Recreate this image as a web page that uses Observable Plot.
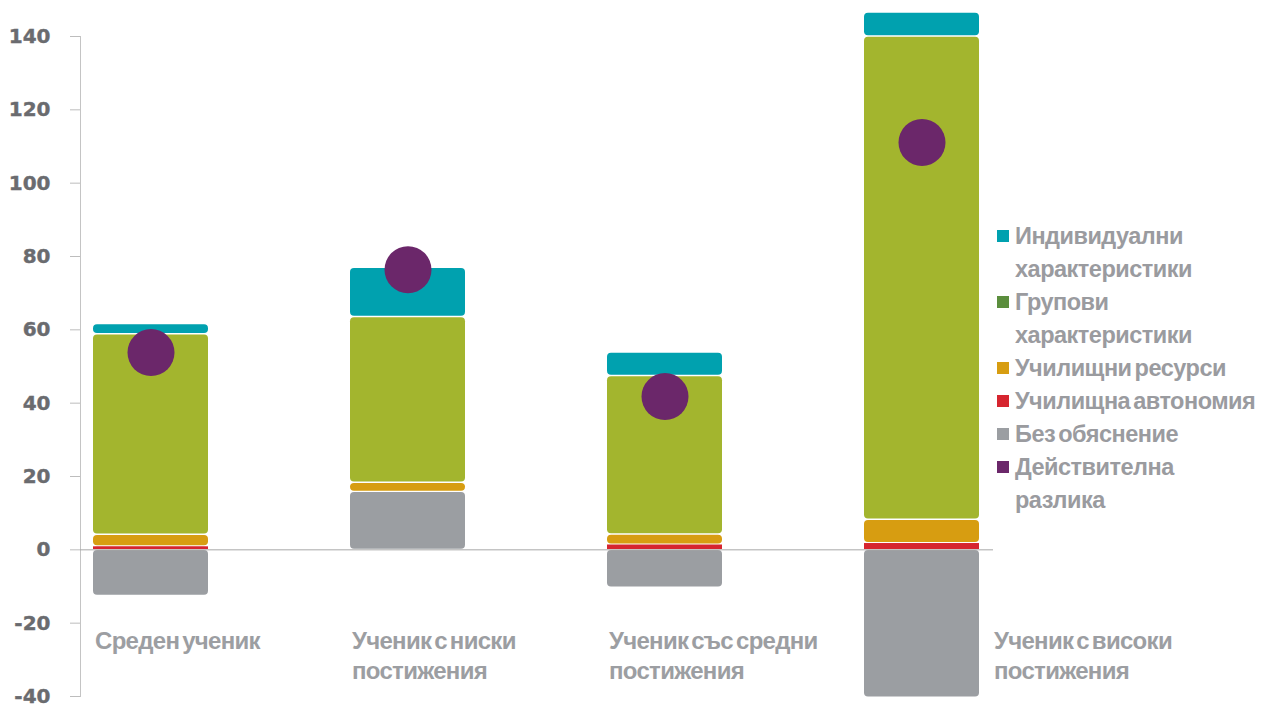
<!DOCTYPE html>
<html>
<head>
<meta charset="utf-8">
<script src="https://cdn.jsdelivr.net/npm/d3@7"></script>
<script src="https://cdn.jsdelivr.net/npm/@observablehq/plot@0.6"></script>
<style>
  html, body { margin: 0; padding: 0; background: #fff; }
  #wrap { position: relative; width: 1261px; height: 704px; overflow: hidden; }
  #chart svg { display: block; }
  #chart g[aria-label="y-axis tick"] { stroke: #bdbdbd; }
  #chart g[aria-label="y-axis tick label"] { fill: #6a6b6f; stroke: #6a6b6f; stroke-width: 0.4px; font-family: "DejaVu Sans", sans-serif; font-weight: bold; font-size: 20px; }
  #chart g[aria-label="text"] { font-family: "Liberation Sans", Arial, sans-serif; font-weight: bold; font-size: 24px; letter-spacing: -0.7px; word-spacing: -3px; }
  #legend { position: absolute; left: 997px; top: 220px; font-family: "Liberation Sans", Arial, sans-serif; font-weight: bold; font-size: 23.5px; letter-spacing: -0.5px; word-spacing: -3px; color: #9a9b9f; }
  .item { position: relative; padding-left: 18px; line-height: 33px; }
  .sw { position: absolute; left: 0; top: 10px; width: 12px; height: 12px; }
</style>
</head>
<body>
<div id="wrap">
  <div id="chart"></div>
  <div id="legend"></div>
</div>
<script>
// ---- data ----
const categories = ["Среден ученик", "Ученик с ниски постижения", "Ученик със средни постижения", "Ученик с високи постижения"];
const categoryLabels = ["Среден ученик", "Ученик с ниски\nпостижения", "Ученик със средни\nпостижения", "Ученик с високи\nпостижения"];
const series = ["Без обяснение", "Училищна автономия", "Училищни ресурси", "Групови характеристики", "Индивидуални характеристики"];
const unexplained = [-12.6, 15.8, -10.3, -40.3];
const autonomy    = [0.9, 0, 1.4, 1.8];
const resources   = [3.2, 2.5, 2.8, 6.4];
const groupChar   = [54.7, 45.2, 43.2, 131.8];
const individual  = [2.8, 13.4, 6.4, 6.5];
const actual      = [53.8, 76.4, 41.8, 111.1];
const yTicks = [-40, -20, 0, 20, 40, 60, 80, 100, 120, 140];
const barColors = ["#9b9ea2", "#d6252f", "#d79d11", "#a3b52e", "#00a1af"];
const legendLabels = ["Индивидуални\nхарактеристики", "Групови\nхарактеристики", "Училищни ресурси", "Училищна автономия", "Без обяснение", "Действителна\nразлика"];
const legendColors = ["#00a1af", "#5b8e3d", "#d79d11", "#d6252f", "#9b9ea2", "#6b276a"];
const actualColor = "#6b276a";

// ---- build table ----
const seriesValues = [unexplained, autonomy, resources, groupChar, individual];
const rows = [];
categories.forEach((c, i) => {
  series.forEach((s, j) => {
    const v = seriesValues[j][i];
    if (v !== 0) rows.push({category: c, series: s, value: v});
  });
});
const actualRows = categories.map((c, i) => ({category: c, value: actual[i]}));
const labelRows = categories.map((c, i) => ({category: c, label: categoryLabels[i]}));

const chart = Plot.plot({
  width: 1261,
  height: 704,
  marginLeft: 80,
  marginRight: 268,
  marginTop: 36,
  marginBottom: 8,
  style: {background: "#fff", overflow: "visible"},
  x: {domain: categories, paddingInner: 0.552, paddingOuter: 0.05, axis: null},
  y: {domain: [-40, 140], axis: null},
  color: {domain: series, range: barColors},
  marks: [
    Plot.frame({anchor: "left", stroke: "#c4c4c4"}),
    Plot.axisY({ticks: yTicks, tickSize: 10, tickPadding: 20, tickFormat: d => String(d), label: null}),
    Plot.barY(rows, Plot.stackY({x: "category", y: "value", fill: "series", rx: 4, insetTop: 0.7, insetBottom: 0.7})),
    Plot.barY(rows, Plot.stackY({x: "category", y: "value", fill: "series", fillOpacity: d => d.series === "Училищна автономия" ? 1 : 0, insetTop: 0.3, insetBottom: 0.3})),
    Plot.ruleY([0], {stroke: "#a8a8a8", strokeWidth: 1}),
    Plot.dot(actualRows, {x: "category", y: "value", r: 23.5, fill: actualColor, stroke: "none"}),
    Plot.text(labelRows.slice(0, 3), {x: "category", y: -21.5, text: "label", textAnchor: "start", lineAnchor: "top", lineHeight: 1.22, dx: -56, fill: "#9c9ea2"}),
    Plot.text(labelRows.slice(3), {x: "category", y: -21.5, text: "label", textAnchor: "start", lineAnchor: "top", lineHeight: 1.22, dx: 72, fill: "#9c9ea2"})
  ]
});
document.getElementById("chart").appendChild(chart);

// ---- legend ----
const legend = d3.select("#legend");
legendLabels.forEach((lab, i) => {
  const item = legend.append("div").attr("class", "item");
  item.append("span").attr("class", "sw").style("background", legendColors[i]);
  lab.split("\n").forEach(line => item.append("div").text(line));
});
</script>
</body>
</html>
